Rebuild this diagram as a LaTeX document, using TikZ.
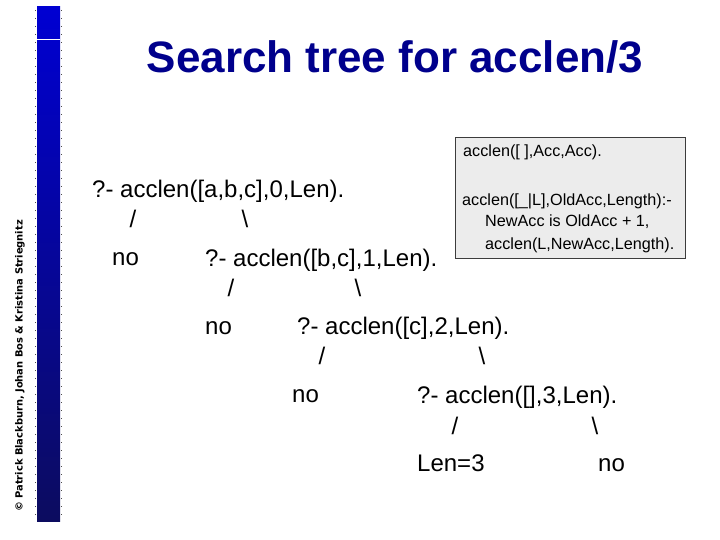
\documentclass[tikz,border=0pt]{standalone}
\usepackage{fontspec}
\setmainfont{Liberation Sans}
\newfontfamily\dvfont{DejaVu Sans}
\definecolor{titleblue}{RGB}{0,0,140}
\definecolor{bartop}{RGB}{0,0,210}
\definecolor{barbot}{RGB}{12,12,95}
\definecolor{boxfill}{RGB}{236,236,236}
\definecolor{boxline}{RGB}{60,60,60}
\tikzset{
  treetext/.style={anchor=base west, inner sep=0pt, font=\fontsize{24}{28}\selectfont},
  edgetext/.style={anchor=base, inner sep=0pt, font=\fontsize{24}{28}\selectfont},
  boxtext/.style={anchor=base west, inner sep=0pt, font=\fontsize{16.2}{19}\selectfont},
}
\begin{document}
\begin{tikzpicture}[x=1pt,y=-1pt]
\useasboundingbox (0,0) rectangle (720,540);
% side bar
\shade[top color=bartop, bottom color=barbot] (37,7) rectangle (60,521);
\draw[white, line width=1pt] (37,40) -- (60,40);
\draw[black!70, line width=0.8pt, dash pattern=on 0.8pt off 7.2pt] (35.5,10) -- (35.5,520);
\draw[black!70, line width=0.8pt, dash pattern=on 0.8pt off 7.2pt] (61.5,10) -- (61.5,520);
\node[rotate=90, inner sep=0pt, font=\dvfont\bfseries\fontsize{9.9}{11}\selectfont] (copy) at (20,366) {© Patrick Blackburn, Johan Bos \& Kristina Striegnitz};
% title
\node[anchor=base, inner sep=0pt, text=titleblue, font=\bfseries\fontsize{44}{50}\selectfont] (title) at (395,73) {Search tree for acclen/3};
% program box
\node[draw=boxline, fill=boxfill, line width=0.8pt, minimum width=230pt, minimum height=121pt, anchor=north west] (box) at (455,137) {};
\node[boxtext] (b1) at (463,157) {acclen([ ],Acc,Acc).};
\node[boxtext] (b2) at (462,206) {acclen([\_|L],OldAcc,Length):-};
\node[boxtext] (b3) at (485,226) {NewAcc is OldAcc + 1,};
\node[boxtext] (b4) at (485,249) {acclen(L,NewAcc,Length).};
% tree
\node[treetext] (q0) at (92,197) {?- acclen([a,b,c],0,Len).};
\node[edgetext] (s0) at (133,227) {/};
\node[edgetext] (t0) at (245,227) {\textbackslash};
\node[treetext] (n0) at (112,265) {no};
\node[treetext] (q1) at (205,266) {?- acclen([b,c],1,Len).};
\node[edgetext] (s1) at (231,296) {/};
\node[edgetext] (t1) at (358,296) {\textbackslash};
\node[treetext] (n1) at (205,334) {no};
\node[treetext] (q2) at (297,334) {?- acclen([c],2,Len).};
\node[edgetext] (s2) at (322,364) {/};
\node[edgetext] (t2) at (482,364) {\textbackslash};
\node[treetext] (n2) at (292,402) {no};
\node[treetext] (q3) at (417,403) {?- acclen([],3,Len).};
\node[edgetext] (s3) at (455,434) {/};
\node[edgetext] (t3) at (595,434) {\textbackslash};
\node[treetext] (r3) at (417,471) {Len=3};
\node[treetext] (n3) at (598,471) {no};
\end{tikzpicture}
\end{document}
